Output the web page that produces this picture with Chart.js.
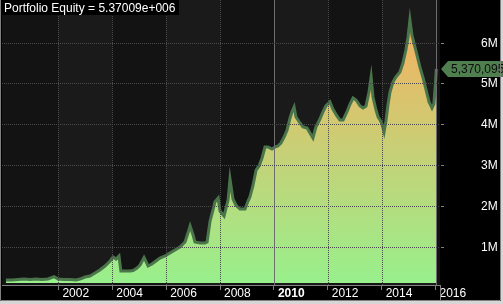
<!DOCTYPE html>
<html>
<head>
<meta charset="utf-8">
<script src="https://cdn.jsdelivr.net/npm/chart.js@4.4.0/dist/chart.umd.min.js"></script>
<style>
  body { margin: 0; background: #d6d6d6; }
  canvas { display: block; }
</style>
</head>
<body>
<canvas id="equityChart" width="503" height="304"></canvas>
<script>
// equity curve (decimal year, dollars)
const dates = [
  2000.05, 2000.28, 2000.50, 2000.72, 2000.95, 2001.17, 2001.39, 2001.61, 2001.84, 2001.99,
  2002.21, 2002.43, 2002.65, 2002.80, 2002.99, 2003.17, 2003.36, 2003.54, 2003.73, 2003.92,
  2004.03, 2004.14, 2004.25, 2004.32, 2004.51, 2004.66, 2004.77, 2004.92, 2005.03, 2005.18,
  2005.33, 2005.47, 2005.62, 2005.77, 2005.96, 2006.14, 2006.33, 2006.51, 2006.70, 2006.81,
  2006.89, 2007.00, 2007.07, 2007.26, 2007.44, 2007.52, 2007.63, 2007.74, 2007.81, 2007.93,
  2008.00, 2008.15, 2008.30, 2008.37, 2008.48, 2008.59, 2008.74, 2008.93, 2009.04, 2009.11,
  2009.22, 2009.34, 2009.45, 2009.56, 2009.67, 2009.78, 2009.93, 2010.04, 2010.15, 2010.26,
  2010.38, 2010.49, 2010.60, 2010.67, 2010.75, 2010.82, 2010.97, 2011.08, 2011.23, 2011.34,
  2011.45, 2011.56, 2011.71, 2011.82, 2011.93, 2012.08, 2012.19, 2012.34, 2012.45, 2012.57,
  2012.71, 2012.83, 2012.94, 2013.05, 2013.20, 2013.31, 2013.42, 2013.53, 2013.61, 2013.68,
  2013.79, 2013.87, 2013.94, 2014.01, 2014.09, 2014.16, 2014.24, 2014.31, 2014.42, 2014.53,
  2014.68, 2014.79, 2014.90, 2014.98, 2015.05, 2015.13, 2015.20, 2015.31, 2015.42, 2015.54,
  2015.65, 2015.76, 2015.87, 2015.94, 2016.00, 2016.03
];
const equity = [
  196000, 196000, 208000, 220000, 208000, 220000, 208000, 220000, 277000, 220000,
  208000, 208000, 196000, 220000, 270000, 294000, 368000, 441000, 539000, 662000,
  760000, 711000, 784000, 417000, 417000, 417000, 429000, 490000, 564000, 748000,
  539000, 588000, 662000, 735000, 784000, 858000, 931000, 1005000, 1127000, 1348000,
  1520000, 1299000, 1127000, 1103000, 1103000, 1127000, 1642000, 1912000, 2108000, 2206000,
  1887000, 1765000, 2157000, 2672000, 2181000, 2034000, 1936000, 1936000, 2132000, 2230000,
  2500000, 2892000, 2990000, 3186000, 3456000, 3456000, 3407000, 3456000, 3480000, 3554000,
  3701000, 3873000, 4167000, 4314000, 4436000, 4191000, 4044000, 3946000, 3922000, 3799000,
  3676000, 3946000, 4142000, 4314000, 4461000, 4559000, 4387000, 4216000, 4118000, 4118000,
  4314000, 4510000, 4657000, 4608000, 4461000, 4412000, 4461000, 4804000, 5172000, 4681000,
  4363000, 4191000, 4118000, 4020000, 3824000, 4093000, 4510000, 4804000, 5049000, 5172000,
  5294000, 5515000, 5833000, 6152000, 6569000, 6176000, 6005000, 5711000, 5417000, 5147000,
  4853000, 4559000, 4412000, 4510000, 5025000, 5370095
];

const yearTicks = [2002, 2004, 2006, 2008, 2010, 2012, 2014, 2016];
const boldYears = [2010];
const solidYears = [2010, 2016];
const yTickValues = [1000000, 2000000, 3000000, 4000000, 5000000, 6000000];
const titleText = "Portfolio Equity = 5.37009e+006";
const lastLabel = "5,370,095";

const xMin = 1999.906, xMax = 2016.167;
const yMin = 73500, yMax = 7034000;
const fillBase = 120000;

const FONT = '"Liberation Sans", Arial, sans-serif';
Chart.defaults.font.family = FONT;
Chart.defaults.font.size = 12;
Chart.defaults.color = "#ffffff";

const points = dates.map((d, i) => ({ x: d, y: equity[i] }));

function fillGradient(context) {
  const chart = context.chart;
  const { ctx, chartArea, scales } = chart;
  if (!chartArea) return null;
  const y0 = scales.y.getPixelForValue(fillBase);
  const y1 = scales.y.getPixelForValue(Math.max(...equity));
  const g = ctx.createLinearGradient(0, y0, 0, y1);
  g.addColorStop(0, "rgb(152,240,140)");
  g.addColorStop(1, "rgb(246,176,96)");
  return g;
}

// no extra padding from the axes, the layout is fixed
function noPadding(s) {
  s.paddingTop = 0;
  s.paddingBottom = 0;
  s.paddingLeft = 0;
  s.paddingRight = 0;
}

// background, alternating 2-year bands, frame
const backdrop = {
  id: "backdrop",
  beforeDraw(chart) {
    const { ctx, chartArea: a, scales } = chart;
    const x = scales.x;
    ctx.save();
    ctx.fillStyle = "#d6d6d6";
    ctx.fillRect(0, 0, chart.width, chart.height);
    ctx.fillStyle = "#000";
    ctx.fillRect(0, 0, 501, 301);
    const edges = [x.min].concat(yearTicks.filter(v => v < x.max)).concat([x.max]);
    for (let i = 0; i < edges.length - 1; i++) {
      const p0 = Math.round(x.getPixelForValue(edges[i]));
      const p1 = Math.round(x.getPixelForValue(edges[i + 1]));
      ctx.fillStyle = i % 2 ? "#1a1a1a" : "#131313";
      ctx.fillRect(p0, 0, p1 - p0, a.bottom);
    }
    ctx.restore();
  },
  afterDatasetsDraw(chart) {
    // vertical grid, dotted except marked years
    const { ctx, chartArea: a, scales } = chart;
    const x = scales.x;
    ctx.save();
    yearTicks.forEach(v => {
      const p = Math.round(x.getPixelForValue(v)) + 0.5;
      ctx.beginPath();
      if (solidYears.includes(v)) {
        ctx.setLineDash([]);
        ctx.strokeStyle = "#6e6e6e";
      } else {
        ctx.setLineDash([1, 1]);
        ctx.strokeStyle = "#4a4a4a";
      }
      ctx.lineWidth = 1;
      ctx.moveTo(p, 0);
      ctx.lineTo(p, a.bottom);
      ctx.stroke();
    });
    ctx.restore();
  },
  afterDraw(chart) {
    const { ctx, chartArea: a, scales } = chart;
    ctx.save();
    // title
    ctx.fillStyle = "#000";
    ctx.fillRect(2, 0, 177, 15);
    ctx.font = "12px " + FONT;
    ctx.fillStyle = "#fff";
    ctx.textBaseline = "alphabetic";
    ctx.textAlign = "left";
    ctx.fillText(titleText, 4, 12);

    // last value marker
    const yv = scales.y.getPixelForValue(equity[equity.length - 1]);
    ctx.fillStyle = "#4f7f4f";
    ctx.beginPath();
    ctx.moveTo(a.right + 1, yv);
    ctx.lineTo(a.right + 8, yv - 8);
    ctx.lineTo(chart.width, yv - 8);
    ctx.lineTo(chart.width, yv + 8);
    ctx.lineTo(a.right + 8, yv + 8);
    ctx.closePath();
    ctx.fill();
    ctx.fillStyle = "#0c0c0c";
    ctx.textBaseline = "middle";
    ctx.fillText(lastLabel, a.right + 11, yv + 1);

    // frame
    ctx.strokeStyle = "#808080";
    ctx.lineWidth = 1;
    ctx.beginPath();
    ctx.moveTo(0.5, 0); ctx.lineTo(0.5, 300.5); ctx.lineTo(500.5, 300.5); ctx.lineTo(500.5, 0);
    ctx.moveTo(a.right + 0.5, a.bottom); ctx.lineTo(a.right + 0.5, 300);
    ctx.stroke();
    ctx.restore();
  }
};

const ctx = document.getElementById("equityChart").getContext("2d");
new Chart(ctx, {
  type: "line",
  data: {
    datasets: [{
      data: points,
      borderColor: "rgb(74,116,74)",
      borderWidth: 3,
      backgroundColor: fillGradient,
      fill: { value: fillBase },
      pointRadius: 0,
      tension: 0
    }]
  },
  options: {
    responsive: false,
    animation: false,
    layout: { padding: { left: 2, top: 1, right: 0, bottom: 0 } },
    plugins: {
      legend: { display: false },
      tooltip: { enabled: false },
      title: { display: false }
    },
    scales: {
      x: {
        type: "linear",
        position: "bottom",
        min: xMin,
        max: xMax,
        afterFit: (s) => { s.height = 19; noPadding(s); },
        afterBuildTicks: (s) => { s.ticks = yearTicks.map(v => ({ value: v })); },
        ticks: {
          autoSkip: false,
          maxRotation: 0,
          align: "start",
          labelOffset: 4,
          padding: -4,
          color: "#ffffff",
          font: (c) => ({ family: FONT, size: 12, weight: boldYears.includes(c.tick && c.tick.value) ? "bold" : "normal" }),
          callback: (v) => String(v)
        },
        grid: {
          drawOnChartArea: false,
          drawTicks: true,
          tickLength: 5,
          tickColor: "#808080"
        },
        border: { display: true, color: "#808080", width: 1 }
      },
      y: {
        position: "right",
        min: yMin,
        max: yMax,
        afterFit: (s) => { s.width = 63; noPadding(s); },
        afterBuildTicks: (s) => { s.ticks = yTickValues.map(v => ({ value: v })); },
        ticks: {
          crossAlign: "near",
          padding: 37,
          color: "#ffffff",
          callback: (v) => (v / 1000000) + "M"
        },
        grid: {
          color: "#4a4a4a",
          z: 1,
          tickLength: 4,
          tickColor: "#808080"
        },
        border: { display: true, color: "#808080", width: 1, dash: [1, 1] }
      }
    }
  },
  plugins: [backdrop]
});
</script>
</body>
</html>
